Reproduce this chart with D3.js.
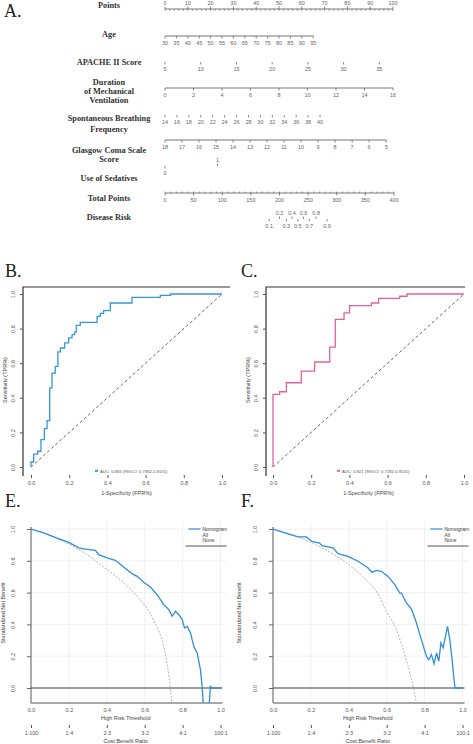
<!DOCTYPE html>
<html>
<head>
<meta charset="utf-8">
<script src="https://cdn.jsdelivr.net/npm/d3@7"></script>
<style>
  body { margin: 0; background: #fff; }
  svg { display: block; }
  text { font-family: "Liberation Sans", Arial, sans-serif; }
</style>
</head>
<body>
<svg id="figure" width="473" height="744"></svg>
<script>
// ---- A. nomogram: tick labels and the points each variable range is worth
const pointTicks = [0, 10, 20, 30, 40, 50, 60, 70, 80, 90, 100]
const ageTicks = [30, 35, 40, 45, 50, 55, 60, 65, 70, 75, 80, 85, 90, 95]
const agePoints = [0, 65]
const apacheTicks = [5, 10, 15, 20, 25, 30, 35]
const apachePoints = [0, 94]
const ventTicks = [0, 2, 4, 6, 8, 10, 12, 14, 16]
const ventPoints = [0, 100]
const breathTicks = [14, 16, 18, 20, 22, 24, 26, 28, 30, 32, 34, 36, 38, 40]
const breathPoints = [0, 68]
const gcsTicks = [18, 17, 16, 15, 14, 13, 12, 11, 10, 9, 8, 7, 6, 5]
const gcsPoints = [0, 97]
const sedativeTicks = [0, 1]
const sedativePoints = [0, 23]
const totalTicks = [0, 50, 100, 150, 200, 250, 300, 350, 400]
const riskTicks = [0.1, 0.2, 0.3, 0.4, 0.5, 0.6, 0.7, 0.8, 0.9]
const riskTotals = [182, 200, 212, 222, 232, 242, 252, 264, 283]

// ---- B. / C. ROC curves (step corners)
const rocBFpr = [0, 0, 0.014, 0.035, 0.052, 0.070, 0.084, 0.098, 0.110, 0.127, 0.141, 0.154, 0.176, 0.197, 0.215, 0.228, 0.237, 0.258, 0.346, 0.363, 0.380, 0.415, 0.529, 0.677, 0.730, 1]
const rocBTpr = [0, 0.029, 0.075, 0.091, 0.158, 0.222, 0.268, 0.457, 0.543, 0.582, 0.665, 0.688, 0.717, 0.746, 0.765, 0.780, 0.819, 0.836, 0.871, 0.888, 0.904, 0.948, 0.981, 0.992, 1, 1]
const rocCFpr = [0, 0, 0.035, 0.070, 0.148, 0.218, 0.297, 0.326, 0.372, 0.401, 0.515, 0.553, 0.663, 0.702, 1]
const rocCTpr = [0, 0.42, 0.435, 0.487, 0.554, 0.607, 0.693, 0.853, 0.891, 0.933, 0.948, 0.975, 0.987, 1, 1]
const rocBLegend = "AUC: 0.855 (95%CI: 0.7952-0.9151)"
const rocCLegend = "AUC: 0.821 (95%CI: 0.7182-0.9241)"
const rocTicks = [0, 0.2, 0.4, 0.6, 0.8, 1.0]

// ---- E. / F. decision curves
const dcaEThreshold = [0, 0.067, 0.137, 0.199, 0.252, 0.287, 0.340, 0.357, 0.401, 0.445, 0.489, 0.533, 0.560, 0.595, 0.630, 0.665, 0.701, 0.727, 0.745, 0.762, 0.780, 0.798, 0.810, 0.824, 0.842, 0.859, 0.877, 0.894, 0.903, 0.912, 0.938, 0.947, 0.951, 1.0]
const dcaENomogram = [1, 0.975, 0.943, 0.916, 0.881, 0.874, 0.866, 0.839, 0.818, 0.803, 0.761, 0.719, 0.702, 0.665, 0.635, 0.587, 0.524, 0.493, 0.451, 0.482, 0.461, 0.430, 0.377, 0.388, 0.346, 0.262, 0.220, 0.115, 0.010, -0.15, -0.15, 0.015, 0, 0]
const dcaEAllThreshold = [0, 0.1, 0.2, 0.3, 0.4, 0.5, 0.55, 0.6, 0.65, 0.7, 0.72, 0.735, 0.745]
const dcaEAll = [1, 0.96, 0.905, 0.835, 0.745, 0.65, 0.59, 0.52, 0.42, 0.26, 0.14, 0.0, -0.12]
const dcaFThreshold = [0, 0.062, 0.132, 0.176, 0.206, 0.246, 0.259, 0.317, 0.343, 0.396, 0.449, 0.502, 0.523, 0.546, 0.572, 0.607, 0.643, 0.669, 0.678, 0.704, 0.731, 0.757, 0.783, 0.810, 0.822, 0.836, 0.850, 0.863, 0.875, 0.886, 0.898, 0.910, 0.921, 0.933, 0.945, 0.960, 1.0]
const dcaFNomogram = [1, 0.975, 0.950, 0.950, 0.922, 0.912, 0.895, 0.881, 0.845, 0.828, 0.797, 0.755, 0.727, 0.740, 0.734, 0.702, 0.650, 0.597, 0.597, 0.535, 0.497, 0.409, 0.304, 0.199, 0.178, 0.210, 0.153, 0.220, 0.168, 0.283, 0.252, 0.325, 0.388, 0.304, 0.178, 0, 0]
const dcaFAllThreshold = [0, 0.1, 0.2, 0.3, 0.4, 0.5, 0.55, 0.6, 0.65, 0.7, 0.73, 0.75, 0.765]
const dcaFAll = [1, 0.965, 0.915, 0.855, 0.775, 0.67, 0.6, 0.48, 0.37, 0.19, 0.06, -0.05, -0.15]
const dcaTicks = [0, 0.2, 0.4, 0.6, 0.8, 1.0]
const costLabels = ["1:100", "1:4", "2:3", "3:2", "4:1", "100:1"]
const dcaLegend = ["Nomogram", "All", "None"]

const svg = d3.select("#figure")
const serif = '"Liberation Serif", "Times New Roman", serif'

function panelLabel(x, y, txt) {
    svg.append("text").attr("x", x).attr("y", y).text(txt)
        .style("font-family", serif).style("font-size", "18px").attr("fill", "#222")
}

// one nomogram axis: xs are pixel positions already, mode = below|above|alt
function nomoAxis(g, y, xs, labels, mode, drawLine) {
    if (drawLine) {
        g.append("line").attr("x1", d3.min(xs)).attr("x2", d3.max(xs))
            .attr("y1", y).attr("y2", y).attr("stroke", "#555").attr("stroke-width", 0.8)
    }
    xs.forEach(function (x, i) {
        let up = mode === "above" || (mode === "alt" && i % 2 === 1)
        g.append("line").attr("x1", x).attr("x2", x).attr("y1", y).attr("y2", up ? y - 2.5 : y + 2.5)
            .attr("stroke", "#555").attr("stroke-width", 0.7)
        g.append("text").attr("x", x).attr("y", up ? y - 3.8 : y + 8.5)
            .attr("text-anchor", "middle").style("font-size", "5.5px").attr("fill", "#666")
            .text(labels[i])
    })
}

function drawNomogram() {
    let g = svg.append("g")
    let px = d3.scaleLinear().domain([0, 100]).range([165, 393])
    let tx = d3.scaleLinear().domain([0, 400]).range([165, 394])

    // left hand labels
    let names = [
        [["Points"], [8]], [["Age"], [37]], [["APACHE II Score"], [65]],
        [["Duration", "of Mechanical", "Ventilation"], [85, 94, 103]],
        [["Spontaneous Breathing", "Frequency"], [121, 132]],
        [["Glasgow Coma Scale", "Score"], [153, 162]],
        [["Use of Sedatives"], [181]], [["Total Points"], [201]], [["Disease Risk"], [220]]
    ]
    names.forEach(function (n) {
        n[0].forEach(function (line, i) {
            g.append("text").attr("x", 109).attr("y", n[1][i]).attr("text-anchor", "middle")
                .style("font-family", serif).style("font-weight", "bold").style("font-size", "8.3px")
                .attr("fill", "#333").text(line)
        })
    })

    // points axis with minor ticks
    d3.range(0, 101, 2).forEach(function (v) {
        g.append("line").attr("x1", px(v)).attr("x2", px(v)).attr("y1", 9).attr("y2", 10.8)
            .attr("stroke", "#555").attr("stroke-width", 0.6)
    })
    nomoAxis(g, 9, pointTicks.map(px), pointTicks, "above", true)

    function varX(ticks, pts) {
        let s = d3.scaleLinear().domain([ticks[0], ticks[ticks.length - 1]]).range(pts)
        return ticks.map(function (v) { return px(s(v)) })
    }
    nomoAxis(g, 36, varX(ageTicks, agePoints), ageTicks, "below", true)
    nomoAxis(g, 62, varX(apacheTicks, apachePoints), apacheTicks, "below", false)
    nomoAxis(g, 88, varX(ventTicks, ventPoints), ventTicks, "below", true)
    nomoAxis(g, 115, varX(breathTicks, breathPoints), breathTicks, "below", false)
    nomoAxis(g, 140, varX(gcsTicks, gcsPoints), gcsTicks, "below", true)
    nomoAxis(g, 166, varX(sedativeTicks, sedativePoints), sedativeTicks, "alt", false)

    d3.range(0, 401, 10).forEach(function (v) {
        g.append("line").attr("x1", tx(v)).attr("x2", tx(v)).attr("y1", 193).attr("y2", 191.5)
            .attr("stroke", "#555").attr("stroke-width", 0.6)
    })
    nomoAxis(g, 193, totalTicks.map(tx), totalTicks, "below", true)
    nomoAxis(g, 219, riskTotals.map(tx), riskTicks, "alt", false)
}

function drawRoc(frameLeft, plotLeft, frameRight, fpr, tpr, color, legendX, legendText) {
    let g = svg.append("g")
    let x = d3.scaleLinear().domain([0, 1]).range([plotLeft, plotLeft + 191])
    let y = d3.scaleLinear().domain([0, 1]).range([467, 294])

    // frame: top and left edges
    g.append("path").attr("d", `M${frameRight},287 H${frameLeft} V476`)
        .attr("fill", "none").attr("stroke", "#333").attr("stroke-width", 1.2)

    let ya = g.append("g").attr("transform", `translate(${frameLeft},0)`)
        .call(d3.axisLeft(y).tickValues(rocTicks).tickSize(3).tickFormat(d3.format(".1f")))
    ya.select(".domain").remove()
    ya.selectAll("line").attr("stroke", "#555")
    ya.selectAll("text").attr("x", null).attr("dy", null).attr("text-anchor", "middle")
        .attr("transform", "translate(-8,0) rotate(-90)").style("font-size", "5.5px").attr("fill", "#555")

    let xa = g.append("g").attr("transform", "translate(0,475)")
        .call(d3.axisBottom(x).tickValues(rocTicks).tickSize(3).tickFormat(d3.format(".1f")))
    xa.select(".domain").remove()
    xa.selectAll("line").attr("stroke", "#555")
    xa.selectAll("text").attr("y", 6).style("font-size", "5.5px").attr("fill", "#555")

    g.append("text").attr("transform", `translate(${frameLeft - 16},380) rotate(-90)`)
        .attr("text-anchor", "middle").style("font-size", "5.5px").attr("fill", "#444").text("Sensitivity (TPR%)")
    g.append("text").attr("x", x(0.5)).attr("y", 495).attr("text-anchor", "middle")
        .style("font-size", "5.5px").attr("fill", "#444").text("1-Specificity (FPR%)")

    // diagonal reference
    g.append("line").attr("x1", x(0)).attr("y1", y(0)).attr("x2", x(1)).attr("y2", y(1))
        .attr("stroke", "#555").attr("stroke-width", 0.9).attr("stroke-dasharray", "3,2.5")

    let pts = fpr.map(function (f, i) { return [f, tpr[i]] })
    g.append("path").datum(pts)
        .attr("fill", "none").attr("stroke", color).attr("stroke-width", 1.3)
        .attr("d", d3.line().x(d => x(d[0])).y(d => y(d[1])).curve(d3.curveStepAfter))

    g.append("rect").attr("x", legendX).attr("y", 469.8).attr("width", 3).attr("height", 2)
        .attr("fill", color)
    g.append("text").attr("x", legendX + 5).attr("y", 472.5).style("font-size", "4.2px")
        .attr("fill", "#555").text(legendText)
}

function drawDca(left, plotLeft, threshold, nomo, allT, allV, clipId) {
    let g = svg.append("g")
    let x = d3.scaleLinear().domain([0, 1]).range([plotLeft, plotLeft + 189.5])
    let y = d3.scaleLinear().domain([0, 1]).range([688, 529])
    let right = plotLeft + 195
    let bottom = 703

    svg.append("clipPath").attr("id", clipId).append("rect")
        .attr("x", plotLeft).attr("y", 520).attr("width", right - plotLeft + 10).attr("height", bottom - 520)

    // grid
    dcaTicks.forEach(function (v) {
        g.append("line").attr("x1", x(v)).attr("x2", x(v)).attr("y1", 522).attr("y2", bottom)
            .attr("stroke", "#ececec").attr("stroke-width", 0.8)
        if (v > 0) {
            g.append("line").attr("x1", plotLeft).attr("x2", right).attr("y1", y(v)).attr("y2", y(v))
                .attr("stroke", "#ececec").attr("stroke-width", 0.8)
        }
    })

    // axes lines
    g.append("line").attr("x1", plotLeft).attr("x2", plotLeft).attr("y1", 527).attr("y2", bottom)
        .attr("stroke", "#8a8a8a").attr("stroke-width", 1.4)
    g.append("line").attr("x1", plotLeft).attr("x2", x(1) + 2).attr("y1", bottom).attr("y2", bottom)
        .attr("stroke", "#8a8a8a").attr("stroke-width", 1.4)

    let ya = g.append("g").attr("transform", `translate(${plotLeft},0)`)
        .call(d3.axisLeft(y).tickValues(dcaTicks).tickSize(4).tickFormat(d3.format(".1f")))
    ya.select(".domain").remove()
    ya.selectAll("line").attr("stroke", "#666")
    ya.selectAll("text").attr("x", null).attr("dy", null).attr("text-anchor", "middle")
        .attr("transform", "translate(-16,0) rotate(-90)").style("font-size", "5.5px").attr("fill", "#555")
    g.append("text").attr("transform", `translate(${left + 5},613) rotate(-90)`)
        .attr("text-anchor", "middle").style("font-size", "5.5px").attr("fill", "#444").text("Standardized Net Benefit")

    let xa = g.append("g").attr("transform", `translate(0,${bottom})`)
        .call(d3.axisBottom(x).tickValues(dcaTicks).tickSize(0).tickFormat(d3.format(".1f")))
    xa.select(".domain").remove()
    xa.selectAll("text").attr("y", 7).attr("dy", "0.3em").style("font-size", "5.5px").attr("fill", "#555")
    g.append("text").attr("x", x(0.5)).attr("y", 720).attr("text-anchor", "middle")
        .style("font-size", "5.5px").attr("fill", "#444").text("High Risk Threshold")

    let ca = g.append("g").attr("transform", "translate(0,725)")
        .call(d3.axisBottom(x).tickValues(dcaTicks).tickSize(3).tickFormat(function (d, i) { return costLabels[i] }))
    ca.select(".domain").remove()
    ca.selectAll("line").attr("stroke", "#555")
    ca.selectAll("text").attr("y", 6).style("font-size", "5.5px").attr("fill", "#555")
    g.append("text").attr("x", x(0.5)).attr("y", 743).attr("text-anchor", "middle")
        .style("font-size", "5.5px").attr("fill", "#444").text("Cost:Benefit Ratio")

    let line = d3.line().x(d => x(d[0])).y(d => y(d[1]))
    let curves = g.append("g").attr("clip-path", `url(#${clipId})`)
    // none
    curves.append("line").attr("x1", plotLeft).attr("x2", x(1) + 2).attr("y1", y(0)).attr("y2", y(0))
        .attr("stroke", "#3a3a3a").attr("stroke-width", 1.1)
    // all
    curves.append("path").datum(allT.map((t, i) => [t, allV[i]]))
        .attr("fill", "none").attr("stroke", "#aaa").attr("stroke-width", 0.9).attr("stroke-dasharray", "2,1.5")
        .attr("d", line.curve(d3.curveMonotoneX))
    // nomogram
    curves.append("path").datum(threshold.map((t, i) => [t, nomo[i]]))
        .attr("fill", "none").attr("stroke", "#2f8fd9").attr("stroke-width", 1.3)
        .attr("d", line.curve(d3.curveLinear))

    // legend
    let lx = x(1) - 18
    g.append("line").attr("x1", lx - 14).attr("x2", lx - 2).attr("y1", 529).attr("y2", 529)
        .attr("stroke", "#2f8fd9").attr("stroke-width", 1.2)
    dcaLegend.forEach(function (t, i) {
        g.append("text").attr("x", lx).attr("y", 531 + i * 5.6).style("font-size", "5px")
            .attr("fill", "#444").text(t)
    })
    g.append("line").attr("x1", lx - 17).attr("x2", x(1) + 6).attr("y1", 546).attr("y2", 546)
        .attr("stroke", "#555").attr("stroke-width", 1.1)
}

panelLabel(4, 17, "A.")
drawNomogram()
panelLabel(5, 277, "B.")
panelLabel(241, 277, "C.")
drawRoc(23, 31, 230, rocBFpr, rocBTpr, "#3596dc", 95, rocBLegend)
drawRoc(266, 273, 465, rocCFpr, rocCTpr, "#e0619f", 337, rocCLegend)
panelLabel(5, 507, "E.")
panelLabel(241, 507, "F.")
drawDca(0, 31, dcaEThreshold, dcaENomogram, dcaEAllThreshold, dcaEAll, "clipE")
drawDca(236, 273, dcaFThreshold, dcaFNomogram, dcaFAllThreshold, dcaFAll, "clipF")
</script>
</body>
</html>
